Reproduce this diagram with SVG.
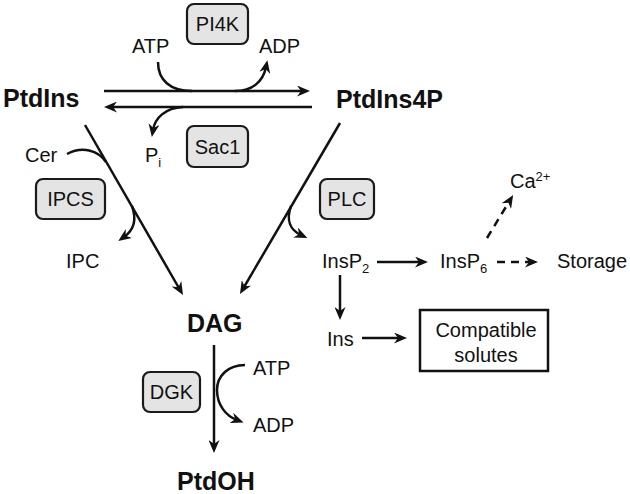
<svg xmlns="http://www.w3.org/2000/svg" width="630" height="494" viewBox="0 0 630 494">
<style>
text{font-family:"Liberation Sans",Arial,sans-serif;fill:#111}
.b{font-weight:bold;font-size:25px}
.t{font-size:20px}
.c{text-anchor:middle}
.s{font-size:13px}
.enz rect{fill:#e4e4e4;stroke:#1a1a1a;stroke-width:2.2}
.ln{fill:none;stroke:#111;stroke-width:2.5}
.ar{marker-end:url(#ah)}
.d{stroke-dasharray:8 6}
</style>
<defs>
<marker id="ah" viewBox="0 0 13 11" markerWidth="13" markerHeight="11" refX="6" refY="5.5" orient="auto" markerUnits="userSpaceOnUse">
<path d="M0,0 L13,5.5 L0,11 L4,5.5 z" fill="#111"/>
</marker>
</defs>
<g id="connectors">
<line class="ln ar" x1="104" y1="91" x2="303" y2="91"/>
<line class="ln ar" x1="312" y1="107" x2="111" y2="107"/>
<path class="ln" d="M158,62 C158,80 170,91 192,91"/>
<path class="ln ar" d="M235,91 C252,91 263,82 266,67"/>
<path class="ln ar" d="M183,107 C165,108 155,118 153,130"/>
<line class="ln ar" x1="85" y1="125" x2="179.5" y2="289"/>
<path class="ln" d="M67,154 C82,146 98,150 106,162"/>
<path class="ln ar" d="M132,206 C137,220 134,230 124,237"/>
<line class="ln ar" x1="340" y1="123" x2="243.5" y2="288"/>
<path class="ln ar" d="M291,206 C286,220 290,230 301,235"/>
<line class="ln ar" x1="377" y1="262" x2="421" y2="262"/>
<line class="ln ar d" x1="497" y1="262" x2="531" y2="262"/>
<line class="ln ar d" x1="487" y1="238" x2="509.5" y2="201"/>
<line class="ln ar" x1="340" y1="275" x2="340" y2="313"/>
<line class="ln ar" x1="362" y1="338" x2="400" y2="338"/>
<line class="ln ar" x1="214" y1="345" x2="214" y2="446"/>
<path class="ln ar" d="M245,365 C228,365 217,376 217,390 C217,405 226,416 237,420"/>
</g>
<g id="PtdIns"><text class="b" x="3" y="107">PtdIns</text></g>
<g id="PtdIns4P"><text class="b" x="336" y="108">PtdIns4P</text></g>
<g id="DAG"><text class="b" x="187" y="332">DAG</text></g>
<g id="PtdOH"><text class="b" x="177" y="490">PtdOH</text></g>
<g id="PI4K" class="enz"><rect x="187" y="4" width="61" height="40" rx="7"/><text class="t c" x="217.5" y="31">PI4K</text></g>
<g id="Sac1" class="enz"><rect x="187" y="126" width="61" height="41" rx="7"/><text class="t c" x="217.5" y="153.5">Sac1</text></g>
<g id="IPCS" class="enz"><rect x="36" y="179" width="69" height="40" rx="7"/><text class="t c" x="70.5" y="206">IPCS</text></g>
<g id="PLC" class="enz"><rect x="320" y="179" width="54" height="40" rx="7"/><text class="t c" x="347" y="206">PLC</text></g>
<g id="DGK" class="enz"><rect x="143" y="372" width="57" height="40" rx="7"/><text class="t c" x="171.5" y="399">DGK</text></g>
<g id="ATP1"><text class="t" x="132" y="53">ATP</text></g>
<g id="ADP1"><text class="t" x="259" y="53">ADP</text></g>
<g id="Pi"><text class="t" x="145" y="162">P<tspan class="s" dy="5">i</tspan></text></g>
<g id="Cer"><text class="t" x="25" y="162">Cer</text></g>
<g id="IPC"><text class="t" x="66" y="268">IPC</text></g>
<g id="InsP2"><text class="t" x="322" y="268">InsP<tspan class="s" dy="5">2</tspan></text></g>
<g id="InsP6"><text class="t" x="440" y="268">InsP<tspan class="s" dy="5">6</tspan></text></g>
<g id="Storage"><text class="t" x="557" y="268">Storage</text></g>
<g id="Ca"><text class="t" x="510" y="188">Ca<tspan class="s" dy="-7">2+</tspan></text></g>
<g id="Ins"><text class="t" x="327" y="346">Ins</text></g>
<g id="solutes"><rect x="420" y="310" width="128" height="61" fill="none" stroke="#111" stroke-width="2.5"/><text class="t c" x="486" y="337">Compatible</text><text class="t c" x="486" y="362">solutes</text></g>
<g id="ATP2"><text class="t" x="253" y="375">ATP</text></g>
<g id="ADP2"><text class="t" x="253" y="432">ADP</text></g>
</svg>
